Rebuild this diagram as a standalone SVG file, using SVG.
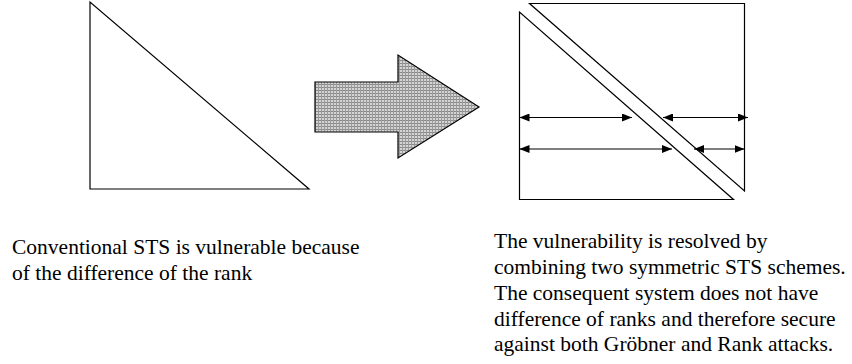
<svg xmlns="http://www.w3.org/2000/svg" width="852" height="364" viewBox="0 0 852 364">
  <style>
    .shape { fill: #ffffff; stroke: #000000; stroke-width: 1.2; }
    .dim { stroke: #000000; stroke-width: 1.2; fill: none; marker-start: url(#head); marker-end: url(#head); }
    .caption { font-family: "Liberation Serif", "Times New Roman", serif; font-size: 21.5px; fill: #000000; }
  </style>
  <defs>
    <marker id="head" viewBox="0 0 10 8" refX="10" refY="4" markerWidth="10" markerHeight="8" markerUnits="userSpaceOnUse" orient="auto-start-reverse">
      <path d="M0,0 L10,4 L0,8 Z" fill="#000000"/>
    </marker>
    <pattern id="grid" width="3" height="3" patternUnits="userSpaceOnUse">
      <rect width="3" height="3" fill="#d4d4d4"/>
      <rect x="0" y="0" width="3" height="1" fill="#8a8a8a"/>
      <rect x="0" y="0" width="1" height="3" fill="#9a9a9a"/>
    </pattern>
  </defs>

  <!-- conventional STS: single triangle -->
  <g id="triangle-conventional">
    <polygon class="shape" points="90,2 90,189 309,189"/>
  </g>

  <!-- transition arrow -->
  <g id="transition-arrow">
    <polygon points="315,82 398,82 398,55 479,107 398,158 398,132 315,132" fill="url(#grid)" stroke="#000000" stroke-width="1.2"/>
  </g>

  <!-- combined scheme: two opposed triangles -->
  <g id="triangle-lower">
    <polygon class="shape" points="519.5,12 519.5,199.5 733.5,199.5"/>
  </g>
  <g id="triangle-upper">
    <polygon class="shape" points="529.5,3.5 744.5,3.5 744.5,191"/>
  </g>

  <!-- rank span arrows -->
  <g id="connectors">
    <line class="dim" x1="519.5" y1="117.5" x2="632" y2="117.5"/>
    <line class="dim" x1="663" y1="117.5" x2="748" y2="117.5"/>
    <line class="dim" x1="519.5" y1="149" x2="672" y2="149"/>
    <line class="dim" x1="694" y1="149" x2="744.5" y2="149"/>
  </g>

  <!-- captions -->
  <g id="caption-left">
    <text class="caption" x="12" y="254">Conventional STS is vulnerable because</text>
    <text class="caption" x="12" y="280">of the difference of the rank</text>
  </g>
  <g id="caption-right">
    <text class="caption" x="494" y="248">The vulnerability is resolved by</text>
    <text class="caption" x="494" y="274">combining two symmetric STS schemes.</text>
    <text class="caption" x="494" y="300">The consequent system does not have</text>
    <text class="caption" x="494" y="325.5">difference of ranks and therefore secure</text>
    <text class="caption" x="494" y="351">against both Gröbner and Rank attacks.</text>
  </g>
</svg>
